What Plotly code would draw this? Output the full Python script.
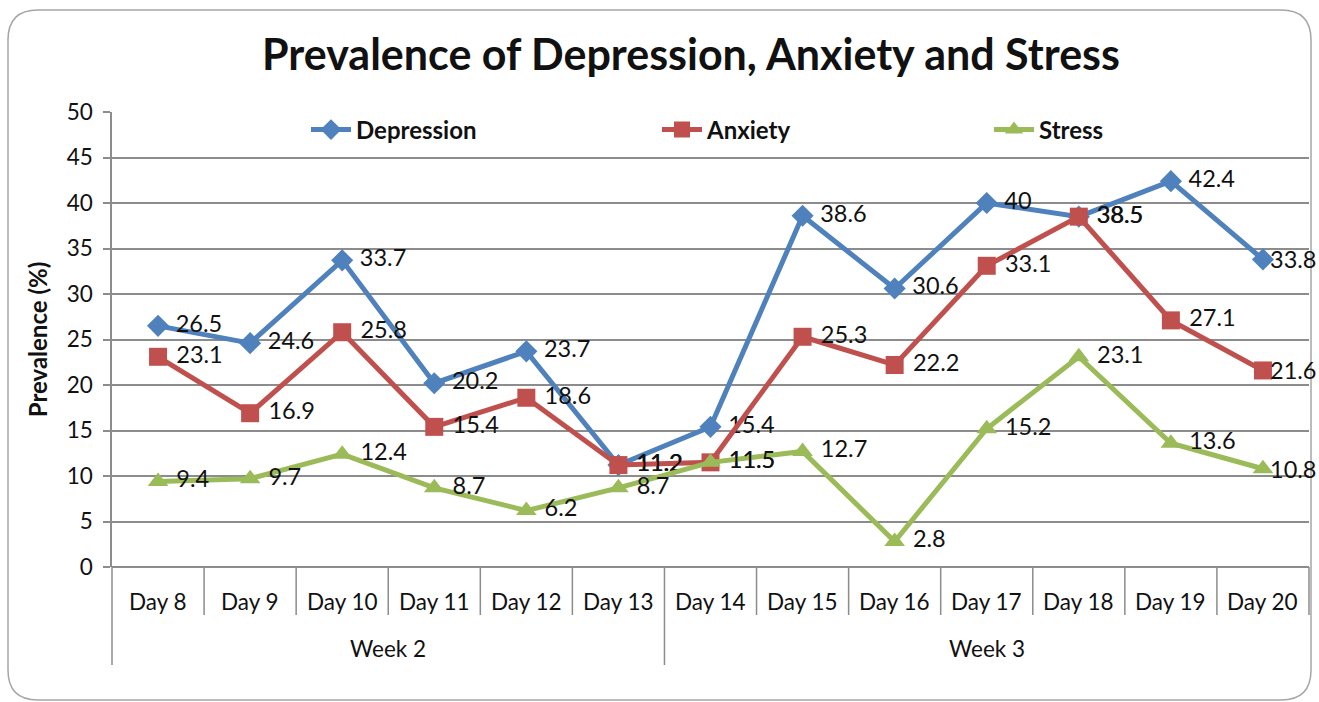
import plotly.graph_objects as go

days = ["Day 8", "Day 9", "Day 10", "Day 11", "Day 12", "Day 13", "Day 14",
        "Day 15", "Day 16", "Day 17", "Day 18", "Day 19", "Day 20"]
weeks = ["Week 2", "Week 3"]
week_sizes = [6, 7]
depression = [26.5, 24.6, 33.7, 20.2, 23.7, 11.2, 15.4, 38.6, 30.6, 40, 38.5, 42.4, 33.8]
anxiety = [23.1, 16.9, 25.8, 15.4, 18.6, 11.2, 11.5, 25.3, 22.2, 33.1, 38.5, 27.1, 21.6]
stress = [9.4, 9.7, 12.4, 8.7, 6.2, 8.7, 11.5, 12.7, 2.8, 15.2, 23.1, 13.6, 10.8]
y_ticks = [0, 5, 10, 15, 20, 25, 30, 35, 40, 45, 50]

FONT = "Lato"
W, H = 1319, 702
L, R, T, B = 112, 10, 112, 135
PW, PH = W - L - R, H - T - B
GRID = "#8c8c8c"
TXT = "#111"
LABEL_SIZE = 23.5


def px_x(px):
    return (px - L) / PW


def px_y(py):
    return (H - B - py) / PH


fig = go.Figure()
annotations = []

series = [
    ("Depression", depression, "#4F81BD", "diamond", 17, "legend"),
    ("Anxiety", anxiety, "#C0504D", "square", 18, "legend2"),
    ("Stress", stress, "#9BBB59", "triangle-up", 18, "legend3"),
]
for name, vals, col, sym, ms, lg in series:
    texts = ["\u00a0" + f"{v:g}" for v in vals]
    texts[-1] = ""
    fig.add_trace(go.Scatter(
        x=days, y=vals, name=name, mode="lines+markers+text",
        line=dict(color=col, width=5),
        marker=dict(color=col, symbol=sym, size=ms),
        text=texts, textposition="middle right",
        textfont=dict(family=FONT, size=LABEL_SIZE, color=TXT),
        cliponaxis=False, legend=lg, showlegend=True,
    ))
    # last label pulled in to fit inside the frame (as in the source chart)
    annotations.append(dict(x=days[-1], y=vals[-1], xref="x", yref="y",
                            text=f"{vals[-1]:g}", showarrow=False,
                            xanchor="left", yanchor="middle", xshift=5,
                            font=dict(family=FONT, size=LABEL_SIZE, color=TXT)))

leg_common = dict(orientation="h", yanchor="middle", xanchor="left",
                  bgcolor="rgba(0,0,0,0)", visible=True, itemwidth=40,
                  font=dict(family=FONT, size=24, color=TXT, weight="bold"))
fig.update_layout(
    showlegend=True,
    legend=dict(x=px_x(306), y=px_y(130), **leg_common),
    legend2=dict(x=px_x(657), y=px_y(130), **leg_common),
    legend3=dict(x=px_x(989), y=px_y(130), **leg_common),
)

shapes = []
# frame
x0, x1, y0, y1 = px_x(8), px_x(1311), px_y(10), px_y(700)
rx, ry = 30 / PW, 30 / PH
path = (f"M {x0 + rx} {y0} L {x1 - rx} {y0} Q {x1} {y0} {x1} {y0 - ry} "
        f"L {x1} {y1 + ry} Q {x1} {y1} {x1 - rx} {y1} L {x0 + rx} {y1} "
        f"Q {x0} {y1} {x0} {y1 + ry} L {x0} {y0 - ry} Q {x0} {y0} {x0 + rx} {y0} Z")
shapes.append(dict(type="path", xref="paper", yref="paper", path=path,
                   line=dict(color="#a6a6a6", width=1.5), layer="below"))

# category dividers
n = len(days)
week_bounds = [0]
for s in week_sizes:
    week_bounds.append(week_bounds[-1] + s)
for i in range(1, n):
    if i in week_bounds:
        continue
    shapes.append(dict(type="line", xref="x", yref="paper", x0=i - 0.5, x1=i - 0.5,
                       y0=0, y1=px_y(615), line=dict(color=GRID, width=1.5)))
for b in week_bounds:
    if b == 0:
        shapes.append(dict(type="line", xref="paper", yref="paper", x0=0, x1=0,
                           y0=0, y1=px_y(665), line=dict(color=GRID, width=1.5)))
    elif b == n:
        shapes.append(dict(type="line", xref="paper", yref="paper", x0=1, x1=1,
                           y0=0, y1=px_y(615), line=dict(color=GRID, width=1.5)))
    else:
        shapes.append(dict(type="line", xref="x", yref="paper", x0=b - 0.5, x1=b - 0.5,
                           y0=0, y1=px_y(665), line=dict(color=GRID, width=1.5)))

for d in days:
    annotations.append(dict(x=d, xref="x", y=px_y(601), yref="paper", text=d,
                            showarrow=False, yanchor="middle", xanchor="center",
                            font=dict(family=FONT, size=22.5, color=TXT)))
for k, wk in enumerate(weeks):
    c = (week_bounds[k] + week_bounds[k + 1] - 1) / 2
    annotations.append(dict(x=c, xref="x", y=px_y(648), yref="paper", text=wk,
                            showarrow=False, yanchor="middle", xanchor="center",
                            font=dict(family=FONT, size=22.5, color=TXT)))

fig.update_layout(
    width=W, height=H,
    margin=dict(l=L, r=R, t=T, b=B),
    paper_bgcolor="white", plot_bgcolor="white",
    title=dict(text="<b>Prevalence of Depression, Anxiety and Stress</b>",
               x=px_x(691), xref="paper", xanchor="center",
               y=1 - 55 / H, yanchor="middle",
               font=dict(family=FONT, size=43, color=TXT)),
    xaxis=dict(type="category", categoryorder="array", categoryarray=days,
               range=[-0.5, n - 0.5], showticklabels=False, showgrid=False,
               zeroline=False, showline=False, ticks=""),
    yaxis=dict(range=[0, 50], tickvals=y_ticks, showgrid=True, gridcolor=GRID,
               gridwidth=1.5, zeroline=True, zerolinecolor=GRID, zerolinewidth=1.5,
               showline=True, linecolor=GRID, linewidth=1.5,
               ticks="outside", ticklen=7, tickcolor=GRID, tickwidth=1.5,
               ticklabelstandoff=6,
               tickfont=dict(family=FONT, size=22.5, color=TXT),
               title=dict(text="<b>Prevalence (%)</b>", standoff=12,
                          font=dict(family=FONT, size=24, color=TXT))),
    shapes=shapes, annotations=annotations,
)

fig.write_html("out.html", config={"displayModeBar": False},
               post_script="document.body.style.margin='0';document.body.style.overflow='hidden';")
